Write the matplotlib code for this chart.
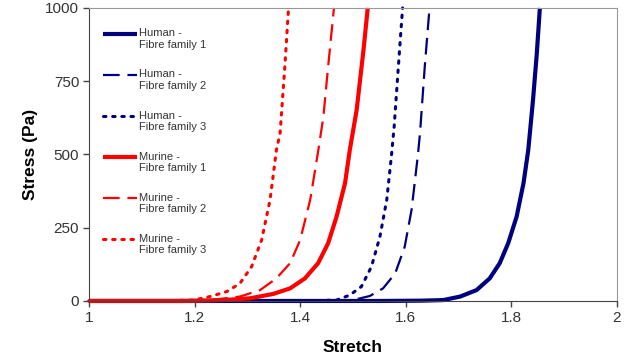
import numpy as np
import matplotlib
matplotlib.use("Agg")
import matplotlib.pyplot as plt
from matplotlib.ticker import FormatStrFormatter
from matplotlib.legend_handler import HandlerLine2D

plt.rcParams['font.family'] = ['Liberation Sans', 'DejaVu Sans']

# stretch / stress (Pa)
human1_x = [1.0, 1.55, 1.63, 1.671, 1.703, 1.734, 1.759, 1.778, 1.794, 1.810,
            1.823, 1.832, 1.841, 1.848, 1.854]
human1_y = [0, 0, 1, 3, 15, 37, 77, 129, 197, 288, 402, 515, 686, 840, 1000]

human2_x = [1.0, 1.42, 1.50, 1.532, 1.557, 1.580, 1.598, 1.611, 1.623, 1.627,
            1.636, 1.645]
human2_y = [0, 0, 3, 17, 43, 94, 185, 311, 498, 573, 800, 1000]

human3_x = [1.0, 1.40, 1.469, 1.494, 1.516, 1.535, 1.551, 1.564, 1.573, 1.578,
            1.586, 1.594]
human3_y = [0, 0, 3, 20, 49, 117, 219, 345, 498, 595, 800, 1000]

murine1_x = [1.0, 1.18, 1.254, 1.305, 1.349, 1.381, 1.409, 1.434, 1.453, 1.469,
             1.485, 1.494, 1.507, 1.520, 1.528]
murine1_y = [0, 0, 3, 9, 24, 43, 77, 129, 197, 288, 402, 515, 652, 857, 1000]

murine2_x = [1.0, 1.15, 1.229, 1.286, 1.324, 1.355, 1.381, 1.400, 1.419, 1.434,
             1.444, 1.453, 1.464]
murine2_y = [0, 0, 3, 15, 37, 77, 129, 208, 345, 510, 629, 800, 1000]

murine3_x = [1.0, 1.12, 1.198, 1.229, 1.261, 1.286, 1.308, 1.327, 1.343, 1.355,
             1.362, 1.371, 1.378]
murine3_y = [0, 0, 3, 15, 32, 60, 117, 208, 345, 515, 573, 800, 1000]

navy = '#00007f'
red = '#ff0000'


class FirstLineHandler(HandlerLine2D):
    # put the legend line next to the first line of a two-line label
    def create_artists(self, legend, orig_handle, xdescent, ydescent,
                       width, height, fontsize, trans):
        arts = super().create_artists(legend, orig_handle, xdescent, ydescent,
                                      width, height, fontsize, trans)
        for a in arts:
            a.set_ydata(np.asarray(a.get_ydata()) + fontsize * 0.5)
        return arts


fig = plt.figure(figsize=(6.4, 3.6), dpi=100)
ax = fig.add_axes([0.139, 0.164, 0.825, 0.814])

ax.plot(human1_x, human1_y, color=navy, lw=3, label='Human -\nFibre family 1',
        clip_on=False, solid_capstyle='butt')
ax.plot(human2_x, human2_y, color=navy, lw=1.6, dashes=(7.5, 3.5),
        label='Human -\nFibre family 2', clip_on=False)
ax.plot(human3_x, human3_y, color=navy, lw=2.2, dashes=(0.8, 2.2),
        dash_capstyle='round', label='Human -\nFibre family 3', clip_on=False)
ax.plot(murine1_x, murine1_y, color=red, lw=3, label='Murine -\nFibre family 1',
        clip_on=False, solid_capstyle='butt')
ax.plot(murine2_x, murine2_y, color=red, lw=1.6, dashes=(7.5, 3.5),
        label='Murine -\nFibre family 2', clip_on=False)
ax.plot(murine3_x, murine3_y, color=red, lw=2.2, dashes=(0.8, 2.2),
        dash_capstyle='round', label='Murine -\nFibre family 3', clip_on=False)

ax.set_xlim(1, 2)
ax.set_ylim(0, 1000)
ax.set_xticks([1, 1.2, 1.4, 1.6, 1.8, 2])
ax.set_yticks([0, 250, 500, 750, 1000])
ax.xaxis.set_major_formatter(FormatStrFormatter('%g'))
ax.tick_params(direction='out', length=4, width=1, colors='#444444',
               labelsize=11, labelcolor='#333333', pad=3)

ax.spines['left'].set_color('#444444')
ax.spines['bottom'].set_color('#444444')
ax.spines['top'].set_color('#999999')
ax.spines['right'].set_color('#999999')

ax.set_xlabel('Stretch', fontsize=12.5, fontweight='bold', labelpad=11)
ax.set_ylabel('Stress (Pa)', fontsize=12.5, fontweight='bold', labelpad=5)

leg = ax.legend(loc='upper left', bbox_to_anchor=(0.026, 0.93), frameon=False,
                fontsize=8, handlelength=3.1, handletextpad=0.15,
                labelspacing=1.75, borderpad=0, borderaxespad=0,
                handler_map={plt.Line2D: FirstLineHandler()})
for t in leg.get_texts():
    t.set_color('#333333')

fig.savefig('out.png', dpi=100)
